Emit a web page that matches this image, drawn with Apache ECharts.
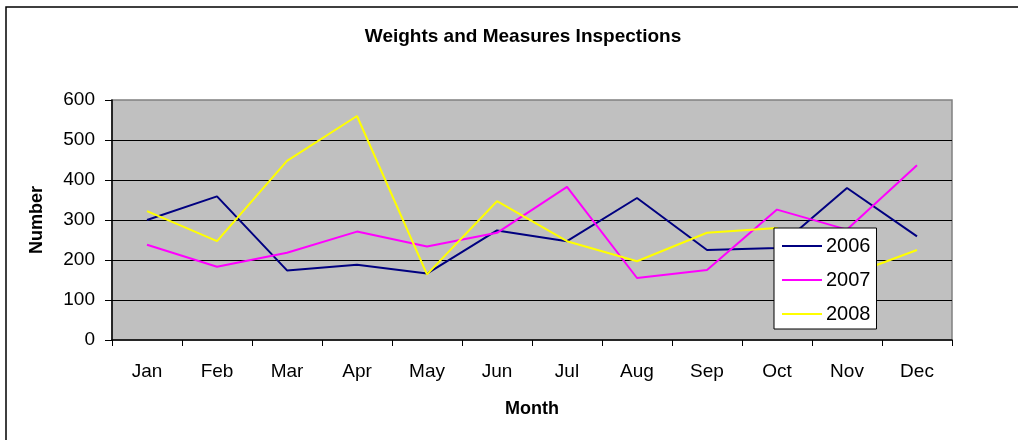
<!DOCTYPE html>
<html>
<head>
<meta charset="utf-8">
<title>Weights and Measures Inspections</title>
<script src="https://cdn.jsdelivr.net/npm/echarts@6/dist/echarts.min.js"></script>
<style>
    html, body { margin: 0; padding: 0; background: #fff; }
    #chart { width: 1018px; height: 440px; }
</style>
</head>
<body>
<div id="chart"></div>
<script>
var months = ['Jan', 'Feb', 'Mar', 'Apr', 'May', 'Jun', 'Jul', 'Aug', 'Sep', 'Oct', 'Nov', 'Dec'];
var yTicks = [0, 100, 200, 300, 400, 500, 600];
var data2006 = [300, 359, 174, 188, 166, 274, 247, 355, 225, 230, 380, 259];
var data2007 = [238, 183, 218, 271, 234, 268, 383, 155, 175, 326, 276, 437];
var data2008 = [322, 247, 448, 560, 164, 347, 247, 197, 268, 280, 160, 225];

var font = 'Arial, "Liberation Sans", sans-serif';

var chart = echarts.init(document.getElementById('chart'));

var option = {
    animation: false,
    backgroundColor: '#fff',
    title: {
        text: 'Weights and Measures Inspections',
        left: 518,
        top: 22,
        textAlign: 'center',
        textStyle: { fontFamily: font, fontSize: 19, fontWeight: 'bold', color: '#000' }
    },
    // outer frame of the chart area
    graphic: [{
        type: 'rect',
        shape: { x: 6, y: 7, width: 1100, height: 500 },
        style: { fill: 'none', stroke: '#000', lineWidth: 1.5 },
        silent: true
    }],
    grid: {
        left: 112,
        top: 100,
        right: 66,
        bottom: 100,
        show: true,
        backgroundColor: '#C0C0C0',
        borderColor: '#808080',
        borderWidth: 1.5
    },
    legend: {
        orient: 'vertical',
        left: 774,
        top: 228,
        padding: [8, 6, 5, 8],
        itemGap: 14,
        itemWidth: 40,
        itemHeight: 2,
        icon: 'rect',
        backgroundColor: '#fff',
        borderColor: '#000',
        borderWidth: 1,
        z: 10,
        textStyle: { fontFamily: font, fontSize: 20, color: '#000', padding: [0, 0, 0, -1] },
        data: ['2006', '2007', '2008']
    },
    xAxis: {
        type: 'category',
        data: months,
        boundaryGap: true,
        name: 'Month',
        nameLocation: 'middle',
        nameGap: 60,
        nameTextStyle: { fontFamily: font, fontSize: 18, fontWeight: 'bold', color: '#000' },
        axisLine: { lineStyle: { color: '#000', width: 1.5 } },
        axisTick: { show: true, length: 6, lineStyle: { color: '#000' } },
        axisLabel: { fontFamily: font, fontSize: 19, color: '#000', margin: 22, interval: 0 },
        splitLine: { show: false }
    },
    yAxis: {
        type: 'value',
        min: yTicks[0],
        max: yTicks[yTicks.length - 1],
        interval: 100,
        name: 'Number',
        nameLocation: 'middle',
        nameGap: 66,
        nameTextStyle: { fontFamily: font, fontSize: 18, fontWeight: 'bold', color: '#000' },
        axisLine: { show: true, lineStyle: { color: '#000', width: 1.5 } },
        axisTick: { show: true, length: 7, lineStyle: { color: '#000' } },
        axisLabel: { fontFamily: font, fontSize: 19, color: '#000', margin: 17 },
        splitLine: {
            show: true,
            showMinLine: false,
            showMaxLine: false,
            lineStyle: { color: '#000', width: 1 }
        }
    },
    series: [
        {
            name: '2006',
            type: 'line',
            data: data2006,
            showSymbol: false,
            symbol: 'none',
            itemStyle: { color: '#000080' },
            lineStyle: { color: '#000080', width: 2 }
        },
        {
            name: '2007',
            type: 'line',
            data: data2007,
            showSymbol: false,
            symbol: 'none',
            itemStyle: { color: '#FF00FF' },
            lineStyle: { color: '#FF00FF', width: 2 }
        },
        {
            name: '2008',
            type: 'line',
            data: data2008,
            showSymbol: false,
            symbol: 'none',
            itemStyle: { color: '#FFFF00' },
            lineStyle: { color: '#FFFF00', width: 2 }
        }
    ]
};

chart.setOption(option);
</script>
</body>
</html>
